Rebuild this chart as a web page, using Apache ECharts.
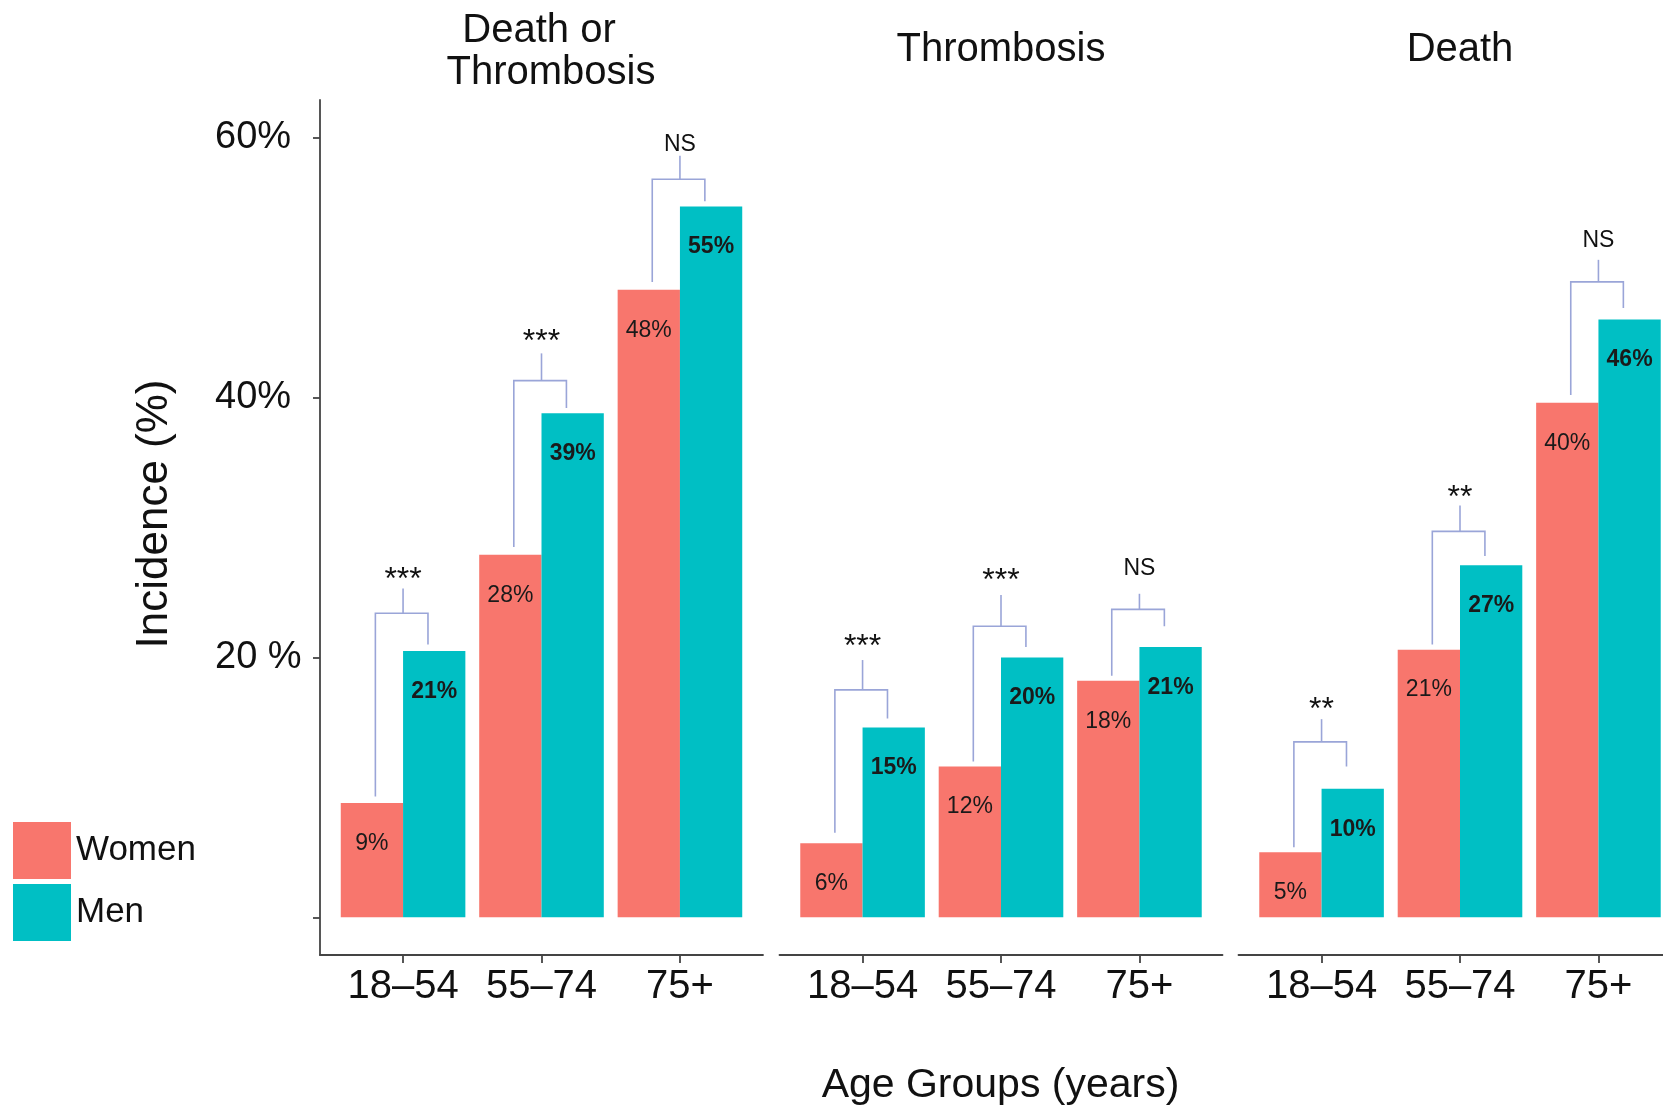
<!DOCTYPE html>
<html><head><meta charset="utf-8">
<script src="https://cdn.jsdelivr.net/npm/echarts@6/dist/echarts.min.js"></script>
<style>html,body{margin:0;padding:0;background:#fff}#c{width:1663px;height:1105px}</style>
</head><body><div id="c"></div>
<script>
// ---------- data ----------
const panelTitles = [['Death or', 'Thrombosis'], ['Thrombosis'], ['Death']];
const categories = ['18–54', '55–74', '75+'];
const categoryPos = [1, 2, 3];
const women = [[8.8, 27.9, 48.3], [5.7, 11.6, 18.2], [5.0, 20.6, 39.6]];
const men = [[20.5, 38.8, 54.7], [14.6, 20.0, 20.8], [9.9, 27.1, 46.0]];
const womenLabels = [['9%', '28%', '48%'], ['6%', '12%', '18%'], ['5%', '21%', '40%']];
const menLabels = [['21%', '39%', '55%'], ['15%', '20%', '21%'], ['10%', '27%', '46%']];
const sigLabels = [['***', '***', 'NS'], ['***', '***', 'NS'], ['**', '**', 'NS']];
const bracketTop = [[23.4, 41.3, 56.8], [17.5, 22.4, 23.7], [13.5, 29.7, 48.9]];
const bracketLeftEnd = [[9.3, 28.5, 48.9], [6.5, 12.0, 18.6], [5.4, 21.0, 40.2]];
const bracketRightEnd = [[21.0, 39.2, 55.1], [15.3, 20.8, 22.4], [11.6, 27.8, 46.9]];
const stemTop = [[25.3, 43.4, 58.6], [19.8, 24.8, 24.9], [15.25, 31.7, 50.6]];
const sigTextY = [[26.5, 44.8, 59.5], [21.3, 26.4, 26.8], [16.5, 32.8, 52.1]];
const yTickValues = [0, 20, 40, 60];
const yTickLabels = ['', '20 %', '40%', '60%'];
const seriesNames = ['Women', 'Men'];

// ---------- styling / layout ----------
const FONT = '"Liberation Sans", Arial, Helvetica, sans-serif';
const COLORS = ['#F8766D', '#00BFC4'];
const BRACKET = '#9aa5d8';
const AXIS = '#444';
const gridLefts = [320, 779.5, 1238.5];
const UNIT_PX = 443 / 3.2;           // pixels per category step
const X_MIN = 0.4;
const gridWidths = [443, 443, 1663 - 1238.5]; // last panel is cut by the picture edge
const Y_MIN = -2.9, Y_MAX = 62.9, GRID_TOP = 100, GRID_H = 855;

const grids = [], xAxes = [], yAxes = [], series = [];
for (let k = 0; k < 3; k++) {
  grids.push({ left: gridLefts[k], top: GRID_TOP, width: gridWidths[k], height: GRID_H, containLabel: false });
  xAxes.push({
    type: 'value', gridIndex: k, min: X_MIN, max: X_MIN + gridWidths[k] / UNIT_PX,
    axisLine: { show: true, onZero: false, lineStyle: { color: AXIS, width: 1.8 } },
    axisTick: { show: true, customValues: categoryPos, length: 8, lineStyle: { color: AXIS, width: 1.8 } },
    axisLabel: {
      customValues: categoryPos, margin: 12, fontSize: 40, color: '#111', fontFamily: FONT,
      formatter: v => categories[Math.round(v) - 1]
    },
    splitLine: { show: false }
  });
  yAxes.push(k === 0 ? {
    type: 'value', gridIndex: k, min: Y_MIN, max: Y_MAX,
    axisLine: { show: true, onZero: false, lineStyle: { color: AXIS, width: 1.8 } },
    axisTick: { show: true, customValues: yTickValues, length: 7, lineStyle: { color: AXIS, width: 1.8 } },
    axisLabel: {
      customValues: yTickValues, align: 'left', margin: 105, fontSize: 38, color: '#111', fontFamily: FONT,
      formatter: v => yTickLabels[yTickValues.indexOf(Math.round(v))] || ''
    },
    splitLine: { show: false }
  } : { type: 'value', gridIndex: k, min: Y_MIN, max: Y_MAX, show: false, splitLine: { show: false } });

  [women, men].forEach((arr, s) => {
    const labs = s === 0 ? womenLabels : menLabels;
    series.push({
      type: 'bar', name: seriesNames[s], xAxisIndex: k, yAxisIndex: k,
      data: arr[k].map((v, i) => [categoryPos[i], v]),
      barGap: '0%', barCategoryGap: '10%',
      itemStyle: { color: COLORS[s] },
      label: {
        show: true, position: 'insideTop', distance: 29,
        fontSize: 23, fontFamily: FONT, color: '#1a1a1a', fontWeight: s === 1 ? 'bold' : 'normal',
        formatter: p => labs[k][p.dataIndex]
      },
      emphasis: { disabled: true }
    });
  });

  series.push({
    type: 'custom', xAxisIndex: k, yAxisIndex: k, silent: true, z: 5,
    data: categoryPos.map((x, i) => [x, bracketTop[k][i], bracketLeftEnd[k][i], bracketRightEnd[k][i], stemTop[k][i], sigTextY[k][i]]),
    encode: { x: 0, y: [1, 2, 3, 4, 5] },
    renderItem: (params, api) => {
      const i = params.dataIndex;
      const x = api.value(0);
      const pL = api.coord([x - 0.2, api.value(2)]);
      const pLT = api.coord([x - 0.2, api.value(1)]);
      const pRT = api.coord([x + 0.18, api.value(1)]);
      const pR = api.coord([x + 0.18, api.value(3)]);
      const sB = api.coord([x, api.value(1)]);
      const sT = api.coord([x, api.value(4)]);
      const tP = api.coord([x, api.value(5)]);
      const lab = sigLabels[k][i];
      const star = lab.indexOf('*') >= 0;
      const fs = star ? 32 : 23;
      return {
        type: 'group', children: [
          { type: 'polyline', shape: { points: [pL, pLT, pRT, pR] }, style: { stroke: BRACKET, lineWidth: 1.6, fill: null } },
          { type: 'line', shape: { x1: sB[0], y1: sB[1], x2: sT[0], y2: sT[1] }, style: { stroke: BRACKET, lineWidth: 1.6 } },
          { type: 'text', x: tP[0], y: tP[1] + (star ? fs * 0.22 : 0),
            style: { text: lab, fontSize: fs, fontFamily: FONT, fill: '#111', align: 'center', verticalAlign: 'middle' } }
        ]
      };
    }
  });
}

// titles
const titlePos = [[[539, 31], [551, 73]], [[1001, 50]], [[1460, 50]]];
const graphics = [];
panelTitles.forEach((lines, k) => lines.forEach((t, j) => {
  graphics.push({ type: 'text', x: titlePos[k][j][0], y: titlePos[k][j][1],
    style: { text: t, fontSize: 40, fontFamily: FONT, fill: '#111', align: 'center', verticalAlign: 'middle' } });
}));
graphics.push({ type: 'text', x: 1000.5, y: 1086,
  style: { text: 'Age Groups (years)', fontSize: 41, fontFamily: FONT, fill: '#111', align: 'center', verticalAlign: 'middle' } });
graphics.push({ type: 'text', x: 155, y: 514, rotation: Math.PI / 2,
  style: { text: 'Incidence (%)', fontSize: 44, fontFamily: FONT, fill: '#111', align: 'center', verticalAlign: 'middle' } });

const chart = echarts.init(document.getElementById('c'), null, { renderer: 'canvas' });
chart.setOption({
  animation: false,
  backgroundColor: '#fff',
  grid: grids, xAxis: xAxes, yAxis: yAxes, series: series,
  legend: {
    data: seriesNames, orient: 'vertical', left: 13, top: 822, padding: 0,
    itemWidth: 58, itemHeight: 57, itemGap: 5, icon: 'rect', selectedMode: false,
    textStyle: { fontSize: 35, color: '#111', fontFamily: FONT }
  },
  graphic: graphics
});
</script></body></html>
